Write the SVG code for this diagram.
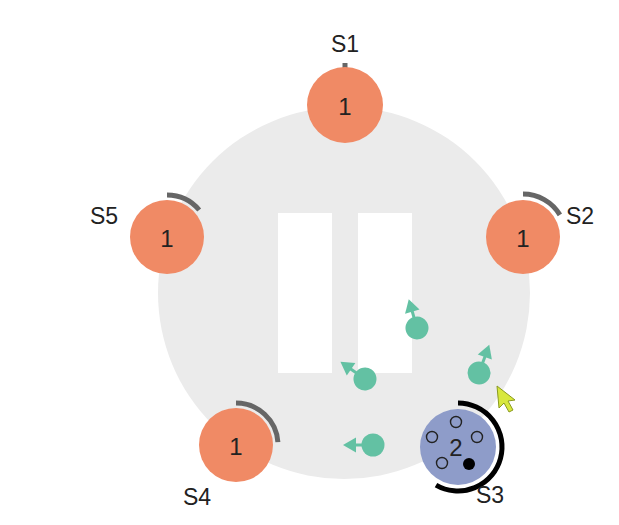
<svg xmlns="http://www.w3.org/2000/svg" width="619" height="525" viewBox="0 0 619 525">
<style>
.lbl{font-family:"Liberation Sans",Arial,sans-serif;font-size:23px;fill:#222}
.num{font-family:"Liberation Sans",Arial,sans-serif;font-size:24px;fill:#222;text-anchor:middle;dominant-baseline:central}
.srv{fill:#F08A65}
.arc{fill:none;stroke:#666;stroke-width:5}
.dot{fill:#63C1A3}
.slot{fill:none;stroke:#222;stroke-width:1.4}
</style>
<defs>
<g id="agent">
<circle class="dot" cx="0" cy="0" r="11.5"/>
<rect class="dot" x="-1.5" y="-20" width="3" height="10"/>
<polygon class="dot" points="0,-30 7.5,-17 -7.5,-17"/>
</g>
</defs>
<rect width="619" height="525" fill="#fff"/>
<g id="arena">
<circle cx="344" cy="293" r="186" fill="#EBEBEB"/>
<rect x="278" y="213" width="54" height="160" fill="#fff"/>
<rect x="358" y="213" width="54" height="160" fill="#fff"/>
</g>
<g id="connectors">
<path class="arc" d="M345,63 L345,69"/>
<path class="arc" d="M167,195 A42,42 0 0 1 199.2,210"/>
<path class="arc" d="M523,194 A43,43 0 0 1 559.9,214.9"/>
<path class="arc" d="M236,403 A42,42 0 0 1 277.9,442.1"/>
<path d="M458,403 A44,44 0 1 1 436,485.1" fill="none" stroke="#000" stroke-width="5"/>
</g>
<g id="S1"><circle class="srv" cx="345" cy="105" r="38"/><text class="num" x="345" y="106">1</text><text class="lbl" x="345" y="52" text-anchor="middle">S1</text></g>
<g id="S2"><circle class="srv" cx="523" cy="237" r="37"/><text class="num" x="523" y="238">1</text><text class="lbl" x="566" y="224">S2</text></g>
<g id="S5"><circle class="srv" cx="167" cy="237" r="37"/><text class="num" x="167" y="238">1</text><text class="lbl" x="90" y="224">S5</text></g>
<g id="S4"><circle class="srv" cx="236" cy="445" r="37"/><text class="num" x="236" y="446">1</text><text class="lbl" x="183" y="505">S4</text></g>
<g id="S3">
<circle cx="458" cy="447" r="38" fill="#8E9CC9"/>
<text class="num" x="456" y="447">2</text>
<circle class="slot" cx="456" cy="422" r="5.5"/>
<circle class="slot" cx="432" cy="437" r="5.5"/>
<circle class="slot" cx="477" cy="437" r="5.5"/>
<circle class="slot" cx="442" cy="463" r="5.5"/>
<circle cx="469" cy="464" r="6" fill="#000"/>
<text class="lbl" x="476" y="503">S3</text>
</g>
<g id="agents">
<use href="#agent" transform="translate(417,328) rotate(-16)"/>
<use href="#agent" transform="translate(365,379) rotate(-55)"/>
<use href="#agent" transform="translate(479,373) rotate(20)"/>
<use href="#agent" transform="translate(373,445) rotate(-90)"/>
</g>
<g id="cursor">
<polygon points="497,386 499,408 504,403 509,412 513,410 508,401 515,400" fill="#D8E83C" stroke="#8A9A20" stroke-width="1"/>
</g>
</svg>
